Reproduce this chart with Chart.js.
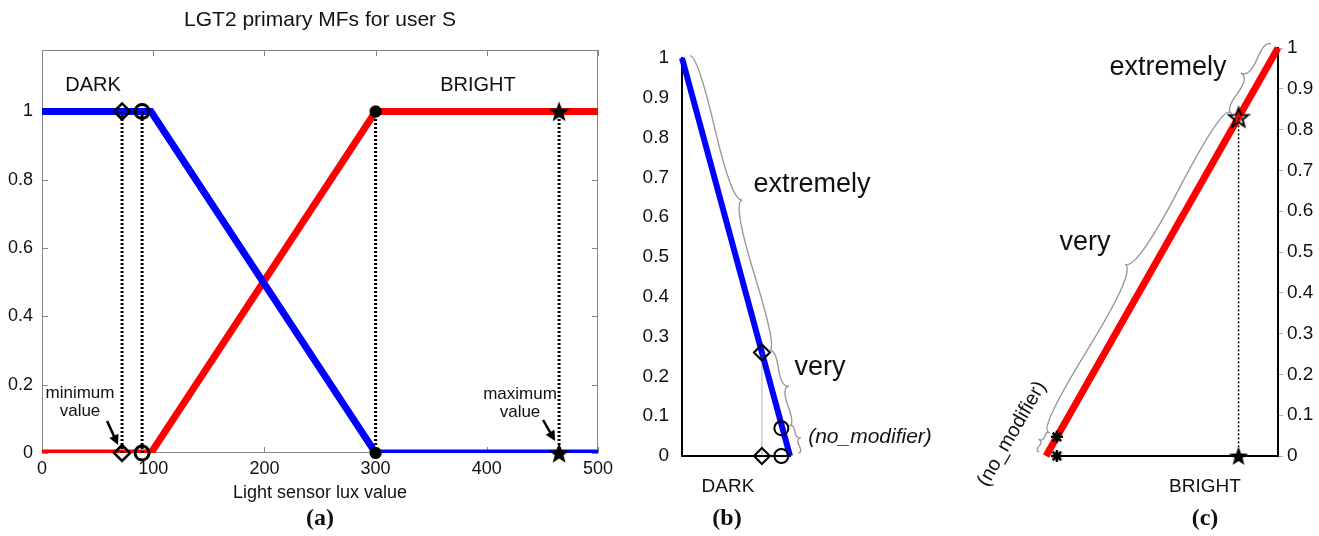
<!DOCTYPE html>
<html>
<head>
<meta charset="utf-8">
<script src="https://cdn.jsdelivr.net/npm/chart.js@4.4.1/dist/chart.umd.min.js"></script>
<style>
  body { margin: 0; background: #fff; width: 1319px; height: 536px; overflow: hidden; position: relative; }
  canvas { position: absolute; top: 0; }
  #chartA { left: 0; }
  #chartB { left: 630px; }
  #chartC { left: 960px; }
</style>
</head>
<body>
<canvas id="chartA" width="620" height="536"></canvas>
<canvas id="chartB" width="330" height="536"></canvas>
<canvas id="chartC" width="359" height="536"></canvas>
<script>
// ---- (a) primary MFs, light sensor lux 0..500 ----
const luxTicks = [0, 100, 200, 300, 400, 500];
const muTicks = [0, 0.2, 0.4, 0.6, 0.8, 1];
const darkLux = [0, 98, 300, 500];
const darkMu = [1, 1, 0, 0];
const brightLux = [0, 98, 300, 500];
const brightMu = [0, 0, 1, 1];
const guideLux = [72, 90, 300, 465]; // minimum, no-modifier, knee, maximum

// ---- (b) DARK ramp ----
const rampTicks = [0, 0.1, 0.2, 0.3, 0.4, 0.5, 0.6, 0.7, 0.8, 0.9, 1];
const darkRampX = [0, 1];
const darkRampY = [1, 0];
const darkVeryPt = [0.74, 0.26];
const darkPlainPt = [0.92, 0.07];

// ---- (c) BRIGHT ramp ----
const brightRampX = [0, 1];
const brightRampY = [0, 1];
const brightPlainPt = [0.047, 0.047];
const brightVeryPt = [0.83, 0.83];

const SANS = '"Liberation Sans", Arial, sans-serif';
const SERIF = '"Liberation Serif", "Times New Roman", serif';

const pts = (xs, ys) => xs.map((x, i) => ({ x: x, y: ys[i] }));
const fixTicks = arr => s => { s.ticks = arr.map(v => ({ value: v })); };
const plainLabel = v => String(v);

function starImg(r, fill, stroke, lw) {
  const c = document.createElement('canvas');
  const s = Math.ceil(2 * r + lw + 2);
  c.width = c.height = s;
  const g = c.getContext('2d');
  g.translate(s / 2, s / 2 + r * 0.08);
  g.beginPath();
  for (let i = 0; i < 10; i++) {
    const rad = i % 2 ? r * 0.42 : r;
    const a = -Math.PI / 2 + i * Math.PI / 5;
    g.lineTo(rad * Math.cos(a), rad * Math.sin(a));
  }
  g.closePath();
  if (fill) { g.fillStyle = fill; g.fill(); }
  if (stroke) { g.lineWidth = lw; g.strokeStyle = stroke; g.stroke(); }
  return c;
}

function text(ctx, s, x, y, font, align) {
  ctx.save();
  ctx.font = font;
  ctx.fillStyle = '#111';
  ctx.textAlign = align || 'center';
  ctx.textBaseline = 'middle';
  ctx.fillText(s, x, y);
  ctx.restore();
}

function arrow(ctx, x1, y1, x2, y2) {
  const a = Math.atan2(y2 - y1, x2 - x1);
  ctx.save();
  ctx.strokeStyle = '#000';
  ctx.fillStyle = '#000';
  ctx.lineWidth = 2.5;
  ctx.beginPath();
  ctx.moveTo(x1, y1);
  ctx.lineTo(x2 - 7 * Math.cos(a), y2 - 7 * Math.sin(a));
  ctx.stroke();
  ctx.beginPath();
  ctx.moveTo(x2, y2);
  ctx.lineTo(x2 - 10 * Math.cos(a) + 5 * Math.sin(a), y2 - 10 * Math.sin(a) - 5 * Math.cos(a));
  ctx.lineTo(x2 - 10 * Math.cos(a) - 5 * Math.sin(a), y2 - 10 * Math.sin(a) + 5 * Math.cos(a));
  ctx.closePath();
  ctx.fill();
  ctx.restore();
}

// curly brace beside segment p1-p2, bulging toward hint point (hx, hy)
function brace(ctx, p1, p2, gap, w, hx, hy) {
  let dx = p1.x - p2.x, dy = p1.y - p2.y;
  const len = Math.hypot(dx, dy);
  dx /= len; dy /= len;
  let nx = dy, ny = -dx;
  const mx = (p1.x + p2.x) / 2, my = (p1.y + p2.y) / 2;
  if ((hx - mx) * nx + (hy - my) * ny < 0) { nx = -nx; ny = -ny; }
  const x1 = p1.x + gap * nx, y1 = p1.y + gap * ny;
  const x2 = p2.x + gap * nx, y2 = p2.y + gap * ny;
  const q = 0.6;
  const qx1 = x1 + q * w * nx, qy1 = y1 + q * w * ny;
  const qx2 = x1 - 0.25 * len * dx + (1 - q) * w * nx, qy2 = y1 - 0.25 * len * dy + (1 - q) * w * ny;
  const tx = x1 - 0.5 * len * dx + w * nx, ty = y1 - 0.5 * len * dy + w * ny;
  const qx3 = x2 + q * w * nx, qy3 = y2 + q * w * ny;
  const qx4 = x1 - 0.75 * len * dx + (1 - q) * w * nx, qy4 = y1 - 0.75 * len * dy + (1 - q) * w * ny;
  ctx.save();
  ctx.strokeStyle = '#9a9a9a';
  ctx.lineWidth = 1.4;
  ctx.beginPath();
  ctx.moveTo(x1, y1);
  ctx.quadraticCurveTo(qx1, qy1, qx2, qy2);
  ctx.quadraticCurveTo(2 * qx2 - qx1, 2 * qy2 - qy1, tx, ty);
  ctx.moveTo(x2, y2);
  ctx.quadraticCurveTo(qx3, qy3, qx4, qy4);
  ctx.quadraticCurveTo(2 * qx4 - qx3, 2 * qy4 - qy3, tx, ty);
  ctx.stroke();
  ctx.restore();
}

const px = (chart, x, y) => ({ x: chart.scales.x.getPixelForValue(x), y: chart.scales.y.getPixelForValue(y) });

const baseOpts = {
  responsive: false,
  animation: false,
  events: [],
  plugins: { legend: { display: false }, tooltip: { enabled: false } }
};

// ================= (a) =================
const bigStar = starImg(11, '#000', null, 0);
const markA = (x, style, extra) => Object.assign({
  data: [{ x: x, y: 1 }, { x: x, y: 0 }],
  showLine: false,
  pointStyle: style,
  pointRadius: 8,
  borderColor: '#000',
  backgroundColor: 'rgba(0,0,0,0)',
  pointBorderWidth: 2.5,
  clip: false,
  order: 0
}, extra || {});

new Chart(document.getElementById('chartA'), {
  type: 'scatter',
  data: {
    datasets: [
      markA(guideLux[0], 'rectRot', { pointRadius: 8 }),
      markA(guideLux[1], 'circle', { pointRadius: 7, pointBorderWidth: 3 }),
      markA(guideLux[2], 'star', { pointRadius: 6, pointBorderWidth: 4 }),
      markA(guideLux[3], bigStar),
      ...guideLux.map(x => ({
        data: [{ x: x, y: 0 }, { x: x, y: 1 }],
        showLine: true, pointRadius: 0, borderColor: '#000', borderWidth: 3,
        borderDash: [2, 2], order: 1
      })),
      { data: pts(darkLux, darkMu), showLine: true, pointRadius: 0, borderColor: '#0000ff', borderWidth: 7, order: 2 },
      { data: pts(brightLux, brightMu), showLine: true, pointRadius: 0, borderColor: '#ff0000', borderWidth: 7, order: 3 }
    ]
  },
  options: Object.assign({}, baseOpts, {
    layout: { padding: { top: 50, right: 22, bottom: 0, left: 0 } },
    scales: {
      x: {
        type: 'linear', min: 0, max: 500,
        afterBuildTicks: fixTicks(luxTicks),
        afterFit: s => { s.height = 83; },
        grid: { display: false, drawTicks: false },
        border: { display: false },
        ticks: { color: '#111', padding: 5, font: { family: SANS, size: 18 }, maxRotation: 0, callback: plainLabel }
      },
      y: {
        type: 'linear', min: 0, max: 1.18,
        afterBuildTicks: fixTicks(muTicks),
        afterFit: s => { s.width = 42; },
        grid: { display: false, drawTicks: false },
        border: { display: false },
        ticks: { color: '#111', padding: 9, font: { family: SANS, size: 18 }, callback: plainLabel }
      }
    }
  }),
  plugins: [{
    id: 'frameA',
    beforeDatasetsDraw(chart) {
      const ctx = chart.ctx, ca = chart.chartArea, sx = chart.scales.x, sy = chart.scales.y;
      ctx.save();
      ctx.strokeStyle = '#888';
      ctx.lineWidth = 1;
      ctx.strokeRect(ca.left + 0.5, ca.top + 0.5, ca.right - ca.left - 1, ca.bottom - ca.top - 1);
      ctx.beginPath();
      luxTicks.forEach(v => {
        const x = Math.round(sx.getPixelForValue(v)) + 0.5;
        ctx.moveTo(x, ca.bottom); ctx.lineTo(x, ca.bottom - 6);
        ctx.moveTo(x, ca.top); ctx.lineTo(x, ca.top + 6);
      });
      muTicks.forEach(v => {
        const y = Math.round(sy.getPixelForValue(v)) + 0.5;
        ctx.moveTo(ca.left, y); ctx.lineTo(ca.left + 6, y);
        ctx.moveTo(ca.right, y); ctx.lineTo(ca.right - 6, y);
      });
      ctx.stroke();
      ctx.restore();
    },
    afterDraw(chart) {
      const ctx = chart.ctx, ca = chart.chartArea;
      const cx = (ca.left + ca.right) / 2;
      text(ctx, 'LGT2 primary MFs for user S', cx, 20, '21px ' + SANS);
      text(ctx, 'DARK', 93, 85, '20px ' + SANS);
      text(ctx, 'BRIGHT', 478, 85, '20px ' + SANS);
      text(ctx, 'minimum', 80, 393, '17px ' + SANS);
      text(ctx, 'value', 80, 411, '17px ' + SANS);
      text(ctx, 'maximum', 520, 394, '17px ' + SANS);
      text(ctx, 'value', 520, 412, '17px ' + SANS);
      const pMin = px(chart, guideLux[0], 0);
      const pMax = px(chart, guideLux[3], 0);
      arrow(ctx, pMin.x - 15, pMin.y - 32, pMin.x - 4, pMin.y - 8);
      arrow(ctx, pMax.x - 16, pMax.y - 33, pMax.x - 4, pMax.y - 12);
      text(ctx, 'Light sensor lux value', cx, 493, '18px ' + SANS);
      text(ctx, '(a)', cx, 519, 'bold 24px ' + SERIF);
    }
  }]
});

// ================= (b) =================
new Chart(document.getElementById('chartB'), {
  type: 'scatter',
  data: {
    datasets: [
      {
        data: [{ x: darkVeryPt[0], y: darkVeryPt[1] }, { x: darkVeryPt[0], y: 0 }],
        showLine: false, pointStyle: 'rectRot', pointRadius: 8, pointBorderWidth: 2,
        borderColor: '#000', backgroundColor: 'rgba(0,0,0,0)', clip: false, order: 0
      },
      {
        data: [{ x: darkPlainPt[0], y: darkPlainPt[1] }, { x: darkPlainPt[0], y: 0 }],
        showLine: false, pointStyle: 'circle', pointRadius: 7, pointBorderWidth: 2,
        borderColor: '#000', backgroundColor: 'rgba(0,0,0,0)', clip: false, order: 0
      },
      {
        data: [{ x: darkVeryPt[0], y: darkVeryPt[1] }, { x: darkVeryPt[0], y: 0 }],
        showLine: true, pointRadius: 0, borderColor: '#666', borderWidth: 1, borderDash: [1, 1], order: 1
      },
      {
        data: pts(darkRampX, darkRampY), showLine: true, pointRadius: 0,
        borderColor: '#0000ff', borderWidth: 6, clip: false, order: 2
      }
    ]
  },
  options: Object.assign({}, baseOpts, {
    layout: { padding: { top: 58, right: 170, bottom: 0, left: 0 } },
    scales: {
      x: {
        type: 'linear', min: 0, max: 1,
        afterFit: s => { s.height = 80; },
        grid: { display: false, drawTicks: false },
        border: { display: true, color: '#000', width: 2 },
        ticks: { display: false }
      },
      y: {
        type: 'linear', min: 0, max: 1,
        afterBuildTicks: fixTicks(rampTicks),
        afterFit: s => { s.width = 52; },
        grid: { display: false, drawTicks: false },
        border: { display: true, color: '#000', width: 2 },
        ticks: { color: '#111', padding: 13, font: { family: SANS, size: 19 }, callback: plainLabel }
      }
    }
  }),
  plugins: [{
    id: 'notesB',
    afterDraw(chart) {
      const ctx = chart.ctx;
      const top = px(chart, darkRampX[0], darkRampY[0]);
      const very = px(chart, darkVeryPt[0], darkVeryPt[1]);
      const plain = px(chart, darkPlainPt[0], darkPlainPt[1]);
      const end = px(chart, darkRampX[1], darkRampY[1]);
      brace(ctx, top, very, 8, 13, 300, 150);
      brace(ctx, very, plain, 8, 10, 300, 360);
      brace(ctx, plain, end, 9, 7, 300, 440);
      text(ctx, 'extremely', 182, 185, '27px ' + SANS);
      text(ctx, 'very', 190, 368, '27px ' + SANS);
      text(ctx, '(no_modifier)', 240, 437, 'italic 21px ' + SANS);
      text(ctx, 'DARK', 98, 487, '19px ' + SANS);
      text(ctx, '(b)', 97, 519, 'bold 24px ' + SERIF);
    }
  }]
});

// ================= (c) =================
const outlineStar = starImg(10, null, '#000', 2);
const smallStar = starImg(10, '#000', null, 0);
new Chart(document.getElementById('chartC'), {
  type: 'scatter',
  data: {
    datasets: [
      {
        data: [{ x: brightPlainPt[0], y: brightPlainPt[1] }, { x: brightPlainPt[0], y: 0 }],
        showLine: false, pointStyle: 'star', pointRadius: 6, pointBorderWidth: 2.5,
        borderColor: '#000', clip: false, order: 0
      },
      {
        data: [{ x: brightVeryPt[0], y: brightVeryPt[1] }],
        showLine: false, pointStyle: outlineStar, clip: false, order: 0
      },
      {
        data: [{ x: brightVeryPt[0], y: 0 }],
        showLine: false, pointStyle: smallStar, clip: false, order: 0
      },
      {
        data: [{ x: brightVeryPt[0], y: brightVeryPt[1] }, { x: brightVeryPt[0], y: 0 }],
        showLine: true, pointRadius: 0, borderColor: '#000', borderWidth: 1.5, borderDash: [2, 2], order: 1
      },
      {
        data: pts(brightRampX, brightRampY), showLine: true, pointRadius: 0,
        borderColor: '#ff0000', borderWidth: 7, clip: false, order: 2
      }
    ]
  },
  options: Object.assign({}, baseOpts, {
    layout: { padding: { top: 48, right: 0, bottom: 0, left: 86 } },
    scales: {
      x: {
        type: 'linear', min: 0, max: 1,
        afterFit: s => { s.height = 80; },
        grid: { display: false, drawTicks: false },
        border: { display: false },
        ticks: { display: false }
      },
      y: {
        type: 'linear', position: 'right', min: 0, max: 1,
        afterBuildTicks: fixTicks(rampTicks),
        afterFit: s => { s.width = 41; },
        grid: { display: true, drawOnChartArea: false, drawTicks: true, tickLength: 5, color: '#aaa' },
        border: { display: true, color: '#000', width: 2 },
        ticks: { color: '#111', padding: 4, font: { family: SANS, size: 19 }, callback: plainLabel }
      }
    }
  }),
  plugins: [{
    id: 'notesC',
    beforeDatasetsDraw(chart) {
      const ctx = chart.ctx;
      const a = px(chart, brightPlainPt[0], 0);
      const b = px(chart, 1, 0);
      ctx.save();
      ctx.strokeStyle = '#000';
      ctx.lineWidth = 2;
      ctx.beginPath();
      ctx.moveTo(a.x, a.y);
      ctx.lineTo(b.x, b.y);
      ctx.stroke();
      ctx.restore();
    },
    afterDraw(chart) {
      const ctx = chart.ctx;
      const top = px(chart, brightRampX[1], brightRampY[1]);
      const very = px(chart, brightVeryPt[0], brightVeryPt[1]);
      const plain = px(chart, brightPlainPt[0], brightPlainPt[1]);
      const start = px(chart, brightRampX[0], brightRampY[0]);
      brace(ctx, top, very, 8, 12, 0, 0);
      brace(ctx, very, plain, 10, 16, 0, 0);
      brace(ctx, plain, start, 8, 7, 0, 300);
      text(ctx, 'extremely', 208, 68, '27px ' + SANS);
      text(ctx, 'very', 125, 243, '27px ' + SANS);
      ctx.save();
      ctx.translate(52, 434);
      ctx.rotate(-60 * Math.PI / 180);
      text(ctx, '(no_modifier)', 0, 0, '20px ' + SANS);
      ctx.restore();
      text(ctx, 'BRIGHT', 245, 487, '19px ' + SANS);
      text(ctx, '(c)', 245, 519, 'bold 24px ' + SERIF);
    }
  }]
});
</script>
</body>
</html>
